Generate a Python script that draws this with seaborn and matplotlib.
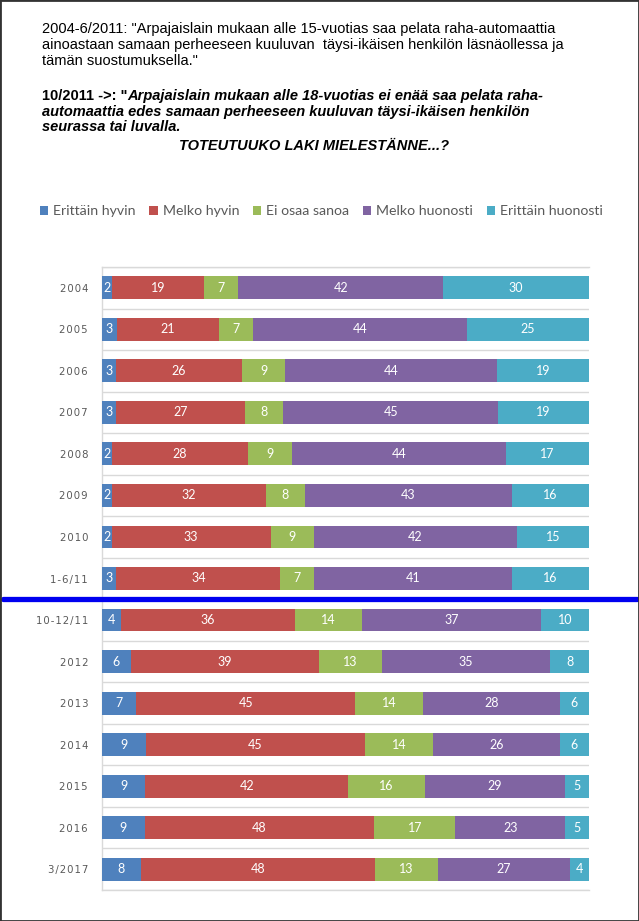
import numpy as np
import pandas as pd
import matplotlib
matplotlib.use("Agg")
import matplotlib.pyplot as plt
from matplotlib.patches import Patch, Rectangle
import seaborn as sns

categories = ["2004", "2005", "2006", "2007", "2008", "2009", "2010", "1-6/11",
              "10-12/11", "2012", "2013", "2014", "2015", "2016", "3/2017"]
series_names = ["Erittäin hyvin", "Melko hyvin", "Ei osaa sanoa", "Melko huonosti", "Erittäin huonosti"]
erittain_hyvin = [2, 3, 3, 3, 2, 2, 2, 3, 4, 6, 7, 9, 9, 9, 8]
melko_hyvin = [19, 21, 26, 27, 28, 32, 33, 34, 36, 39, 45, 45, 42, 48, 48]
ei_osaa_sanoa = [7, 7, 9, 8, 9, 8, 9, 7, 14, 13, 14, 14, 16, 17, 13]
melko_huonosti = [42, 44, 44, 45, 44, 43, 42, 41, 37, 35, 28, 26, 29, 23, 27]
erittain_huonosti = [30, 25, 19, 19, 17, 16, 15, 16, 10, 8, 6, 6, 5, 5, 4]
colors = ["#4F81BD", "#C0504D", "#9BBB59", "#8064A2", "#4BACC6"]

vals = np.array([erittain_hyvin, melko_hyvin, ei_osaa_sanoa, melko_huonosti, erittain_huonosti], dtype=float).T
pct = vals / vals.sum(axis=1, keepdims=True) * 100
cum = np.cumsum(pct, axis=1)

sns.set_theme(style="white")
plt.rcParams["font.family"] = ["Liberation Sans", "DejaVu Sans"]

fig = plt.figure(figsize=(6.39, 9.21), dpi=100)
ax = fig.add_axes([102/639, 1-890/921, (589-102)/639, (890-267)/921])

for i in reversed(range(5)):
    df = pd.DataFrame({"cat": categories, "val": cum[:, i]})
    sns.barplot(data=df, x="val", y="cat", order=categories, color=colors[i],
                saturation=1, width=0.55, orient="h", ax=ax, linewidth=0, zorder=3)

for r in range(len(categories)):
    for i in range(5):
        left = cum[r, i] - pct[r, i]
        ax.text(left + pct[r, i]/2, r, f"{int(vals[r, i])}", ha="center", va="center",
                color="white", fontsize=9, family=["Lato", "DejaVu Sans"], zorder=4)

ax.set_xlim(0, 100)
ax.set_ylim(len(categories)-0.5, -0.5)
ax.set_xlabel("")
ax.set_ylabel("")
ax.set_xticks([])
ax.set_yticks(np.arange(-0.5, len(categories)), minor=True)
ax.grid(axis="y", which="minor", color="#D9D9D9", lw=1, zorder=1)
ax.grid(axis="y", which="major", visible=False)
ax.tick_params(axis="y", which="both", length=0, pad=10)
ax.set_yticks(range(len(categories)))
ax.set_yticklabels(["\u200a".join(list(c)) for c in categories])
for lab in ax.get_yticklabels():
    lab.set_family(["DejaVu Sans"])
    lab.set_fontsize(7.3)
    lab.set_color("#595959")
for s in ["top", "bottom", "left"]:
    ax.spines[s].set_color("#D9D9D9")
    ax.spines[s].set_linewidth(1)
ax.spines["right"].set_visible(False)

ax.axhline(7.5, xmin=(3-102)/487, xmax=(637-102)/487, clip_on=False,
           color="#0000F0", lw=3.8, zorder=6)

handles = [Patch(facecolor=c, edgecolor="none", label=n) for c, n in zip(colors, series_names)]
fig.legend(handles=handles, loc="center", bbox_to_anchor=(0.503, 1-211/921), ncol=5,
           frameon=False, handlelength=0.6, handleheight=0.6, handletextpad=0.35,
           columnspacing=0.95, prop={"family": "Lato", "size": 10.2}, labelcolor="#595959")

x0 = 42/639
fs = 10.55
def yb(px):
    return 1 - px/921

fig.text(x0, yb(33), "2004-6/2011: \"Arpajaislain mukaan alle 15-vuotias saa pelata raha-automaattia",
         fontsize=fs, va="baseline", color="black")
fig.text(x0, yb(49), "ainoastaan samaan perheeseen kuuluvan  täysi-ikäisen henkilön läsnäollessa ja",
         fontsize=fs, va="baseline", color="black")
fig.text(x0, yb(65), "tämän suostumuksella.\"", fontsize=fs, va="baseline", color="black")
t1 = fig.text(x0, yb(100), "10/2011 ->: \"", fontsize=fs, va="baseline", weight="bold", color="black")
ax.annotate("Arpajaislain mukaan alle 18-vuotias ei enää saa pelata raha-", xy=(1, 0), xycoords=t1,
            ha="left", va="bottom", fontsize=fs, weight="bold", style="italic", color="black",
            annotation_clip=False)
fig.text(x0, yb(116), "automaattia edes samaan perheeseen kuuluvan täysi-ikäisen henkilön",
         fontsize=fs, va="baseline", weight="bold", style="italic", color="black")
fig.text(x0, yb(131), "seurassa tai luvalla.",
         fontsize=fs, va="baseline", weight="bold", style="italic", color="black")
fig.text(314/639, yb(150), "TOTEUTUUKO LAKI MIELESTÄNNE...?",
         fontsize=fs, va="baseline", ha="center", weight="bold", style="italic", color="black")

fig.patches.append(Rectangle((0, 0), 1, 1, transform=fig.transFigure, fill=False,
                             edgecolor="#333333", lw=2))

fig.savefig("out.png", dpi=100)
